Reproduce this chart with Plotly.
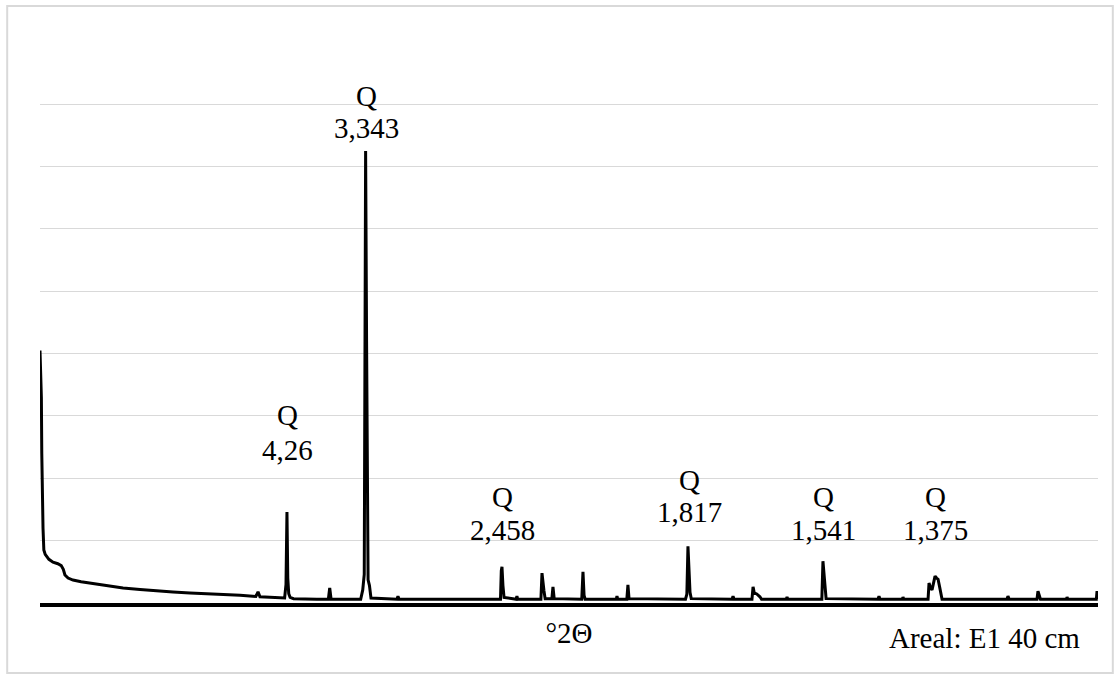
import math
import plotly.graph_objects as go

# Diffractogram, sample E1 at 40 cm (Cu K-alpha, degrees 2-theta vs counts)
two_theta = [
    2.80, 2.90, 2.93, 2.96, 3.02, 3.08, 3.18, 3.45, 3.75, 4.10, 4.35, 4.50,
    4.62, 4.85, 5.21, 5.80, 6.45, 7.60, 8.86, 10.10, 11.34, 12.50, 13.74,
    16.15, 17.40, 18.55, 18.71, 18.85, 20.00, 20.65, 20.75, 20.82, 20.88,
    20.95, 21.05, 21.30, 23.00, 23.84, 23.94, 24.04, 26.20, 26.35, 26.46,
    26.56, 26.63, 26.68, 26.74, 26.84, 26.95, 28.85, 28.92, 29.00, 36.40,
    36.46, 36.51, 36.58, 36.66, 37.55, 37.60, 37.66, 39.35, 39.43, 39.50,
    39.57, 39.66, 40.15, 40.23, 40.32, 42.33, 42.42, 42.50, 42.58, 44.85,
    44.90, 44.96, 45.62, 45.70, 45.78, 49.90, 50.00, 50.08, 50.16, 50.23,
    50.32, 53.30, 53.37, 53.44, 54.75, 54.83, 54.92, 55.10, 55.33, 55.45,
    57.25, 57.31, 57.37, 59.85, 59.93, 60.02, 60.08, 60.16, 63.95, 64.02,
    64.09, 65.72, 65.77, 65.83, 67.60, 67.67, 67.78, 67.89, 68.00, 68.11,
    68.22, 68.33, 68.45, 68.54, 68.62, 73.36, 73.43, 73.52, 75.55, 75.62,
    75.72, 75.80, 77.70, 77.74, 77.80, 79.88, 79.93, 80.00,
]
intensity = [
    4050, 3300, 2400, 1850, 1200, 850, 780, 700, 655, 630, 600, 540,
    450, 400, 368, 340, 320, 280, 240, 215, 192, 175, 160,
    144, 125, 105, 180, 100, 85, 80, 300, 1460, 400,
    150, 90, 70, 60, 60, 240, 60, 60, 210, 460,
    7250, 4200, 1300, 370, 280, 80, 60, 110, 60, 60,
    520, 580, 280, 90, 60, 110, 60, 60, 480, 300,
    200, 70, 70, 260, 70, 60, 500, 120, 60, 60,
    110, 60, 60, 290, 70, 60, 140, 910, 300, 170,
    70, 60, 110, 60, 60, 260, 160, 145, 100, 60,
    60, 95, 60, 60, 670, 350, 280, 70, 60, 110,
    60, 60, 95, 60, 60, 320, 240, 210, 300, 430,
    400, 380, 250, 170, 60, 60, 110, 60, 60, 190,
    130, 60, 60, 95, 60, 60, 190, 60,
]

# Quartz reflections, labelled by d-spacing (Å)
peak_phase = ["Q", "Q", "Q", "Q", "Q", "Q"]
peak_d = ["4,26", "3,343", "2,458", "1,817", "1,541", "1,375"]
phase_label_y = [3010, 8130, 1700, 1970, 1700, 1700]
d_label_y = [2450, 7620, 1170, 1460, 1170, 1170]

WAVELENGTH = 1.5406  # Cu K-alpha1, Å
Y_MAX = 8020


def bragg_two_theta(d_text):
    d = float(d_text.replace(",", "."))
    return 2 * math.degrees(math.asin(WAVELENGTH / (2 * d)))


FONT = "Liberation Serif"
FS = 29

fig = go.Figure(
    go.Scatter(
        x=two_theta,
        y=intensity,
        mode="lines",
        line=dict(color="black", width=3),
        hoverinfo="skip",
    )
)

annotations = []
for phase, d, py, dy in zip(peak_phase, peak_d, phase_label_y, d_label_y):
    x = bragg_two_theta(d)
    # label heights given in counts, placed on the paper so the top one may
    # sit above the plotted range
    annotations.append(dict(x=x, y=py / Y_MAX, xref="x", yref="paper", text=phase,
                            showarrow=False, xanchor="center", yanchor="middle",
                            font=dict(family=FONT, size=FS, color="black")))
    annotations.append(dict(x=x, y=dy / Y_MAX, xref="x", yref="paper", text=d,
                            showarrow=False, xanchor="center", yanchor="middle",
                            font=dict(family=FONT, size=FS, color="black")))

annotations.append(dict(x=0.985, y=-0.07, xref="paper", yref="paper",
                        text="Areal: E1 40 cm", showarrow=False,
                        xanchor="right", yanchor="middle",
                        font=dict(family=FONT, size=FS, color="black")))

fig.update_layout(
    width=1120,
    height=680,
    margin=dict(l=40, r=22, t=103, b=77),
    paper_bgcolor="white",
    plot_bgcolor="white",
    showlegend=False,
    annotations=annotations,
    shapes=[dict(type="rect", xref="paper", yref="paper",
                 x0=-0.031, x1=1.014, y0=-0.140, y1=1.194,
                 line=dict(color="#d9d9d9", width=2), fillcolor="rgba(0,0,0,0)",
                 layer="below")],
    xaxis=dict(
        range=[2.8, 80.0],
        showgrid=False,
        zeroline=False,
        showticklabels=False,
        ticks="",
        showline=True,
        linecolor="black",
        linewidth=4,
        title=dict(text="°2Θ", font=dict(family=FONT, size=FS, color="black"),
                   standoff=18),
    ),
    yaxis=dict(
        range=[0, Y_MAX],
        dtick=1000,
        showgrid=True,
        gridcolor="#d9d9d9",
        gridwidth=1,
        zeroline=False,
        showticklabels=False,
        ticks="",
        showline=False,
    ),
)

fig.write_html("out.html")
